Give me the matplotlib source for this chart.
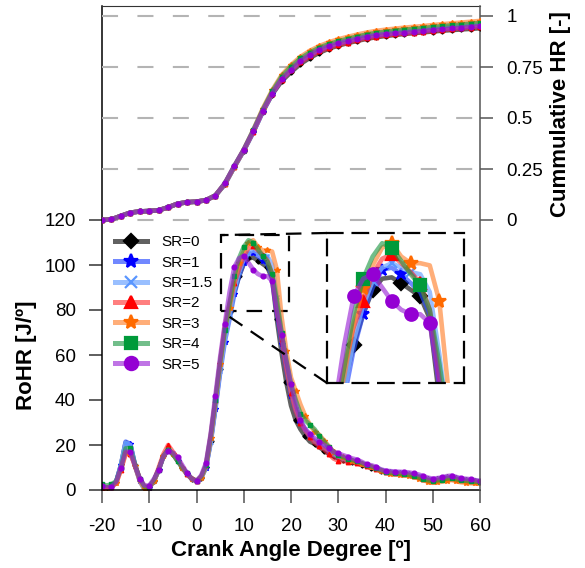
import numpy as np
import matplotlib
matplotlib.use('Agg')
import matplotlib.pyplot as plt
from matplotlib.lines import Line2D
from mpl_toolkits.axes_grid1.inset_locator import mark_inset

plt.rcParams['font.family'] = ['Liberation Sans', 'DejaVu Sans']
plt.rcParams['axes.unicode_minus'] = False

# ---------------- data ----------------
crank_angle = np.arange(-20, 61, 1)        # RoHR sampled every 1 CAD
crank_angle_cum = np.arange(-20, 61, 2)    # cumulative HR every 2 CAD

labels = ['SR=0', 'SR=1', 'SR=1.5', 'SR=2', 'SR=3', 'SR=4', 'SR=5']

# RoHR [J/deg] : -20..0 | 1..20 | 21..30 | 31..60
rohr_sr0 = ([1.5, 1.0, 1.5, 3.5, 11, 21, 20, 11, 4.5, 1, 1.5, 4, 9, 15, 18, 16, 13, 10, 7, 5, 4]
            + [5.5, 10, 22, 37, 54, 68, 79, 88, 95, 100.5, 103, 103.3, 102, 100.5, 99, 94, 76, 61, 48, 37.5]
            + [31, 27, 24, 21.5, 20.5, 19, 17.5, 16, 15, 14]
            + [13.5, 13.0, 12.5, 12.0, 11.3, 10.6, 10.0, 9.4, 8.6, 8.0, 7.8, 7.6, 7.5, 7.3, 7.0,
               6.6, 6.0, 5.4, 4.8, 4.5, 4.8, 5.2, 5.6, 5.7, 5.2, 4.8, 4.5, 4.3, 4.0, 3.8])
rohr_sr1 = ([1.5, 1.0, 1.5, 3.5, 11, 21.5, 20.5, 11, 4, 0.5, 1, 4, 9, 15, 18, 16, 13, 10, 7, 5, 4]
            + [5.5, 10, 21, 36, 52, 66, 76, 87, 95, 101, 105, 105.5, 104, 102, 100, 95, 79, 65, 53, 42]
            + [35, 30, 26.5, 23.5, 21.5, 20, 18.5, 17, 15.5, 14.5]
            + [13.8, 13.3, 12.8, 12.2, 11.5, 10.8, 10.2, 9.5, 8.8, 8.1, 7.9, 7.7, 7.5, 7.3, 7.0,
               6.6, 6.0, 5.3, 4.6, 4.3, 4.6, 5.0, 5.5, 5.6, 5.1, 4.6, 4.3, 4.1, 3.9, 3.7])
rohr_sr15 = ([1.5, 1.0, 1.5, 3.5, 11, 21, 20, 10.5, 4, 0, 1, 4, 9, 15, 18, 16.5, 13.5, 10, 7, 5, 4]
             + [5.5, 10, 21.5, 37, 53, 67, 78, 89, 97, 102.5, 105.5, 106.5, 105.5, 104.5, 104, 100, 86, 70, 56, 44]
             + [36, 31, 27, 24, 22, 20.5, 19, 17.5, 16, 14.8]
             + [14.0, 13.5, 13.0, 12.4, 11.7, 11.0, 10.4, 9.7, 9.0, 8.3, 8.1, 7.9, 7.7, 7.5, 7.2,
                6.8, 6.2, 5.5, 4.8, 4.5, 4.8, 5.2, 5.7, 5.8, 5.3, 4.8, 4.5, 4.3, 4.1, 3.9])
rohr_sr2 = ([1, 1, 1.5, 3, 9, 16, 16, 11, 5, 1.5, 1.5, 4, 10, 16, 20, 17, 14, 10, 7, 5, 4]
            + [6, 11, 24, 40, 57, 73, 83, 92, 98, 104, 107.5, 108.5, 106.5, 104.5, 102, 96, 81, 67, 54, 43]
            + [35, 30, 26.5, 23.5, 21, 19.5, 18, 16, 14, 13]
            + [12.8, 12.5, 12.2, 11.8, 11.2, 10.6, 10.0, 9.4, 8.6, 8.0, 7.7, 7.5, 7.3, 7.1, 6.8,
               6.4, 5.8, 5.1, 4.5, 4.2, 4.5, 4.9, 5.4, 5.5, 5.0, 4.5, 4.2, 4.0, 3.8, 3.6])
rohr_sr3 = ([1, 1, 1.5, 3, 9, 16.5, 16.5, 10.5, 4, 0.5, 1, 4, 9, 15, 18, 16, 13, 10, 7, 5, 4]
            + [5.5, 10.5, 23, 39, 56, 71, 81, 93, 101, 106, 110, 111, 108, 106.5, 106.5, 106, 98, 77, 62, 50]
            + [44, 38, 33, 29, 26, 24.5, 22, 19.5, 17, 15.5]
            + [14.5, 13.8, 13.0, 12.4, 11.6, 10.8, 10.2, 9.4, 8.5, 7.7, 7.3, 7.0, 6.8, 6.6, 6.3,
               5.8, 5.1, 4.4, 3.6, 3.2, 3.4, 3.7, 4.2, 4.4, 3.9, 3.4, 3.2, 3.0, 2.9, 2.8])
rohr_sr4 = ([2.5, 2, 2.5, 4, 10, 18.5, 18.5, 11, 5, 1.5, 1.5, 4.5, 9, 15, 18, 16, 13, 10, 7.5, 5, 4]
            + [6, 11, 24, 40, 57, 71, 83, 95, 103, 108, 111, 110, 107, 104, 101.5, 96, 84, 70, 58, 47]
            + [40, 34, 31, 29, 27, 24, 21.5, 19, 17, 15.5]
            + [14.6, 14.0, 13.3, 12.7, 12.0, 11.1, 10.5, 9.8, 8.9, 8.1, 7.7, 7.4, 7.2, 7.0, 6.7,
               6.3, 5.6, 4.9, 4.3, 4.0, 4.3, 4.6, 5.1, 5.3, 4.8, 4.3, 4.1, 3.9, 3.7, 3.5])
rohr_sr5 = ([2, 1, 1.5, 3.5, 10, 17, 17, 10.5, 5, 2, 2, 5, 9, 15, 17.5, 16.5, 14.5, 11, 7.5, 5, 4]
            + [6.5, 12, 25, 42, 59, 74, 88, 99, 103, 104, 101, 98, 96, 95, 95, 93, 79, 69, 57, 47]
            + [38, 31, 27, 25, 23, 21.5, 20, 18.5, 17, 16.3]
            + [15.5, 14.8, 14.0, 13.5, 12.5, 11.4, 11.0, 10.3, 9.2, 8.6, 8.4, 8.2, 8.1, 8.0, 7.8,
               7.4, 6.9, 6.2, 5.5, 5.0, 5.3, 5.6, 6.2, 6.4, 5.8, 5.2, 5.0, 4.8, 4.4, 4.0])

# Cumulative HR [-] : -20..4 (shared) | 6..60
cum_early = [0, 0.003, 0.02, 0.036, 0.042, 0.044, 0.048, 0.062, 0.08, 0.087, 0.09, 0.097, 0.12]
cum_sr0 = [0.175, 0.26, 0.34, 0.43, 0.53, 0.615, 0.68, 0.725, 0.765, 0.795, 0.82, 0.84, 0.855, 0.867,
           0.878, 0.888, 0.896, 0.902, 0.907, 0.912, 0.916, 0.92, 0.924, 0.928, 0.931, 0.934, 0.937, 0.94]
cum_sr1 = [0.175, 0.26, 0.34, 0.43, 0.53, 0.618, 0.688, 0.735, 0.775, 0.805, 0.83, 0.848, 0.862, 0.874,
           0.885, 0.895, 0.903, 0.909, 0.914, 0.919, 0.923, 0.927, 0.932, 0.936, 0.94, 0.944, 0.948, 0.952]
cum_sr15 = [0.175, 0.26, 0.34, 0.43, 0.53, 0.62, 0.692, 0.74, 0.781, 0.811, 0.836, 0.854, 0.868, 0.88,
            0.891, 0.901, 0.909, 0.915, 0.92, 0.925, 0.929, 0.933, 0.938, 0.942, 0.946, 0.95, 0.954, 0.958]
cum_sr2 = [0.178, 0.262, 0.342, 0.432, 0.533, 0.62, 0.688, 0.733, 0.773, 0.802, 0.826, 0.844, 0.858, 0.87,
           0.881, 0.891, 0.899, 0.905, 0.91, 0.915, 0.919, 0.923, 0.928, 0.932, 0.936, 0.94, 0.943, 0.946]
cum_sr3 = [0.178, 0.262, 0.345, 0.44, 0.545, 0.635, 0.71, 0.76, 0.8, 0.83, 0.853, 0.871, 0.886, 0.898,
           0.909, 0.919, 0.927, 0.933, 0.938, 0.943, 0.947, 0.951, 0.956, 0.96, 0.964, 0.968, 0.972, 0.976]
cum_sr4 = [0.18, 0.265, 0.345, 0.44, 0.54, 0.63, 0.703, 0.752, 0.792, 0.821, 0.845, 0.862, 0.876, 0.888,
           0.899, 0.909, 0.917, 0.923, 0.928, 0.933, 0.937, 0.941, 0.946, 0.95, 0.954, 0.958, 0.962, 0.966]
cum_sr5 = [0.18, 0.265, 0.345, 0.435, 0.535, 0.62, 0.69, 0.735, 0.78, 0.81, 0.835, 0.852, 0.866, 0.877,
           0.888, 0.898, 0.906, 0.911, 0.915, 0.919, 0.923, 0.927, 0.932, 0.935, 0.939, 0.943, 0.947, 0.951]

rohr_all = [rohr_sr0, rohr_sr1, rohr_sr15, rohr_sr2, rohr_sr3, rohr_sr4, rohr_sr5]
cum_all = [cum_early + c for c in [cum_sr0, cum_sr1, cum_sr15, cum_sr2, cum_sr3, cum_sr4, cum_sr5]]

x_ticks = [-20, -10, 0, 10, 20, 30, 40, 50, 60]
rohr_ticks = [0, 20, 40, 60, 80, 100, 120]
cum_ticks = [0, 0.25, 0.5, 0.75, 1]
cum_ticklabels = ['0', '0.25', '0.5', '0.75', '1']

# ---------------- styles ----------------
line_colors = ['#3a3a3acc', '#2a4dffaa', '#80b0ffcc', '#ff2a2a99', '#ff7f2aa0', '#1f9845a0', '#9a22d6a0']
marker_colors = ['#000000', '#0000ff', '#5a96ff', '#ff0000', '#ff6a00', '#009a3a', '#9400d3']
markers = ['D', '*', 'x', '^', '*', 's', 'o']
main_ms = [2.6, 3.8, 3.0, 3.2, 3.8, 3.0, 3.4]
legend_ms = [7, 10, 8, 8.5, 10, 8.5, 9.5]
inset_ms = [7, 9, 7, 8, 10, 8.5, 9]
main_every = [(1, 2), (0, 2), (1, 2), (0, 2), (1, 2), (0, 2), (0, 2)]
inset_every = [[28, 30, 33, 35], [29, 31, 33], [30, 32, 34], [29, 32, 35],
               [29, 32, 34, 37], [29, 32, 35], [28, 30, 32, 34, 36]]

W, H = 585, 568
fig = plt.figure(figsize=(W / 100, H / 100), dpi=100)
fig.patch.set_facecolor('white')

ax = fig.add_axes([102 / W, 1 - 490 / H, (480 - 102) / W, (490 - 6) / H])
ax2 = ax.twinx()

r_top = (490 - 6) / 2.25
ax.set_xlim(-20, 60)
ax.set_ylim(0, r_top)
scale = 204 / 2.25
ax2.set_ylim((0 - 120) / scale, (r_top - 120) / scale)

# grid lines of the cumulative axis
for c in cum_ticks:
    ax2.axhline(c, color='#b4b4b4', lw=1.5, ls=(0, (7.7, 9.3)), zorder=0)

lw = 3.3
for i in range(7):
    ax.plot(crank_angle, rohr_all[i], color=line_colors[i], lw=lw, marker=markers[i],
            ms=main_ms[i], mfc=marker_colors[i], mec=marker_colors[i], mew=1.0,
            markevery=main_every[i], solid_capstyle='round')
    ax2.plot(crank_angle_cum, cum_all[i], color=line_colors[i], lw=lw, marker=markers[i],
             ms=main_ms[i], mfc=marker_colors[i], mec=marker_colors[i], mew=1.0,
             solid_capstyle='round', zorder=3)

ax.set_xticks(x_ticks)
ax.set_yticks(rohr_ticks)
ax2.set_yticks(cum_ticks)
ax2.set_yticklabels(cum_ticklabels)

ax.tick_params(axis='x', direction='out', length=9.4, width=1.4, color='#777777',
               labelsize=13.5, pad=10.5)
ax.tick_params(axis='y', direction='out', length=9.4, width=1.1, color='#333333',
               labelsize=13.5, pad=9.5)
ax2.tick_params(axis='y', direction='out', length=9.4, width=1.1, color='#555555',
                labelsize=13.5, pad=9.5)

for s in ['left', 'bottom']:
    ax.spines[s].set_color('black')
    ax.spines[s].set_linewidth(1.1)
ax.spines['top'].set_color('#333333')
ax.spines['right'].set_visible(False)
for s in ['left', 'bottom', 'top']:
    ax2.spines[s].set_visible(False)
ax2.spines['right'].set_color('#555555')
ax2.spines['right'].set_linewidth(1.1)

ax.set_xlabel('Crank Angle Degree [º]', fontsize=16, fontweight='bold', labelpad=4)
ax.set_ylabel('RoHR [J/º]', fontsize=16, fontweight='bold')
ax.yaxis.set_label_coords((37 - 102) / 378, (490 - 355) / 484)
ax2.set_ylabel('Cummulative HR [-]', fontsize=16, fontweight='bold')
ax2.yaxis.set_label_coords((550 - 102) / 378, (490 - 114) / 484)

handles = [Line2D([], [], color=line_colors[i], lw=3.6, marker=markers[i], ms=legend_ms[i],
                  mfc=marker_colors[i], mec=marker_colors[i], mew=1.6) for i in range(7)]
leg = ax.legend(handles, labels, loc='upper left', bbox_to_anchor=(109 / W, 1 - 229 / H),
                bbox_transform=fig.transFigure, frameon=False, fontsize=11,
                handlelength=2.1, handletextpad=0.95, labelspacing=0.42,
                borderaxespad=0, borderpad=0.4)

# ---------------- inset ----------------
axins = fig.add_axes([327 / W, 1 - 383 / H, 137 / W, 150 / H])
for i in range(7):
    axins.plot(crank_angle, rohr_all[i], color=line_colors[i], lw=lw, marker=markers[i],
               ms=inset_ms[i], mfc=marker_colors[i], mec=marker_colors[i], mew=1.6,
               markevery=inset_every[i], solid_capstyle='round')
axins.set_xlim(5.2, 19.6)
axins.set_ylim(79.5, 113.3)
axins.set_xticks([])
axins.set_yticks([])
axins.patch.set_alpha(0)
dash = (0, (7, 4.5))
for s in axins.spines.values():
    s.set_linestyle(dash)
    s.set_linewidth(1.6)
    s.set_color('black')

mark_inset(ax, axins, loc1=2, loc2=3, fc='none', ec='black', lw=1.6, ls=dash)

fig.savefig('out.png', dpi=100, facecolor='white')
